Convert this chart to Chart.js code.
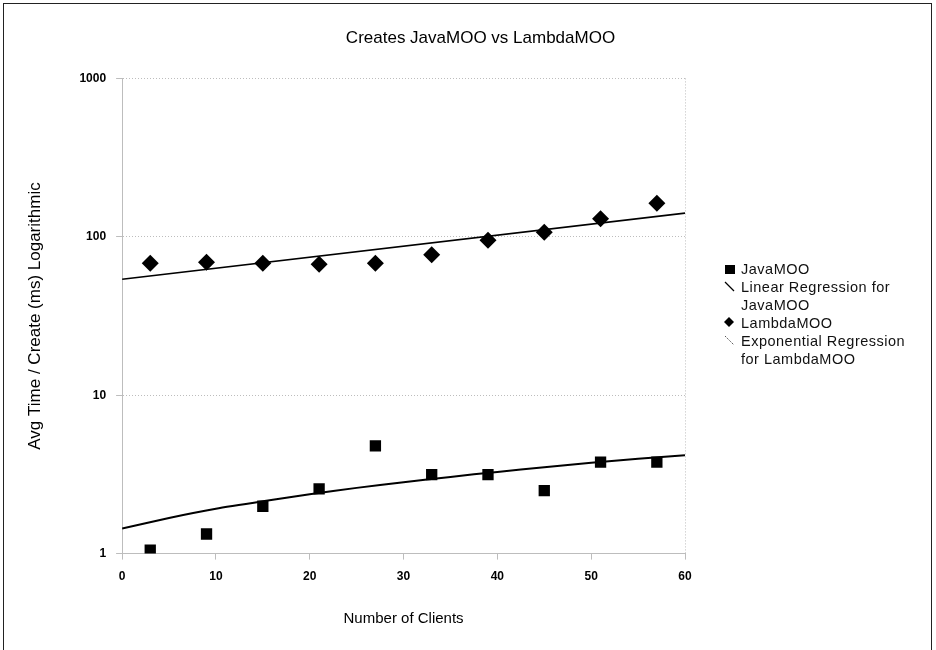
<!DOCTYPE html>
<html>
<head>
<meta charset="utf-8">
<script src="https://cdn.jsdelivr.net/npm/chart.js@4/dist/chart.umd.min.js"></script>
<style>
  html, body { margin: 0; padding: 0; background: #fff; }
  #wrap { position: relative; width: 936px; height: 650px; overflow: hidden; }
  #frame { position: absolute; left: 3px; top: 3px; width: 927px; height: 660px;
           border-top: 1.5px solid #222; border-left: 1.5px solid #222; border-right: 1.5px solid #222; pointer-events: none; }
  #legend { position: absolute; left: 724px; top: 260px; font-family: "Liberation Sans", Arial, sans-serif;
            font-size: 14.5px; letter-spacing: 0.5px; color: #111; line-height: 18px; }
  .item { position: relative; padding-left: 17px; margin-bottom: 0px; }
  .mk { position: absolute; left: 0; }
</style>
</head>
<body>
<div id="wrap">
  <canvas id="c" width="936" height="650"></canvas>
  <div id="frame"></div>
  <div id="legend">
    <div class="item"><svg class="mk" style="top:4px" width="12" height="12"><rect x="1" y="1" width="10" height="9" fill="#000"/></svg>JavaMOO</div>
    <div class="item"><svg class="mk" style="top:3px" width="12" height="12"><line x1="1" y1="1" x2="10" y2="10" stroke="#000" stroke-width="1.3"/></svg>Linear Regression for<br>JavaMOO</div>
    <div class="item"><svg class="mk" style="top:3px" width="12" height="12"><polygon points="5,0 10,5 5,10 0,5" fill="#000"/></svg>LambdaMOO</div>
    <div class="item"><svg class="mk" style="top:3px" width="12" height="12"><line x1="1" y1="1" x2="10" y2="10" stroke="#555" stroke-width="1" stroke-dasharray="1.5,1"/></svg>Exponential Regression<br>for LambdaMOO</div>
  </div>
</div>
<script>
// ---- data ----
const clients = [3, 9, 15, 21, 27, 33, 39, 45, 51, 57];
const javaMOO = [1.05, 1.33, 1.99, 2.56, 4.79, 3.15, 3.15, 2.5, 3.78, 3.78];
const lambdaMOO = [68, 69, 68, 67, 68, 77, 95, 107, 130, 163];
// trend lines
const javaTrendX = [0, 5, 10, 15, 20, 25, 30, 35, 40, 45, 50, 55, 60];
const javaTrendY = [1.44, 1.68, 1.92, 2.14, 2.37, 2.60, 2.82, 3.05, 3.28, 3.51, 3.74, 3.97, 4.18];
const lambdaTrendX = [0, 60];
const lambdaTrendY = [54, 141];
const yTicks = [1, 10, 100, 1000];
const xTicks = [0, 10, 20, 30, 40, 50, 60];

const pts = (xs, ys) => xs.map((x, i) => ({ x: x, y: ys[i] }));
const FONT = '"Liberation Sans", Arial, sans-serif';
const GRID = '#bdbdbd';

new Chart(document.getElementById('c'), {
  type: 'scatter',
  data: {
    datasets: [
      { label: 'JavaMOO', data: pts(clients, javaMOO), pointStyle: 'rect', pointRadius: 8,
        backgroundColor: '#000', borderColor: '#000', borderWidth: 0, showLine: false },
      { label: 'Linear Regression for JavaMOO', data: pts(javaTrendX, javaTrendY), showLine: true,
        pointRadius: 0, borderColor: '#000', borderWidth: 2, tension: 0.2 },
      { label: 'LambdaMOO', data: pts(clients, lambdaMOO), pointStyle: 'rectRot', pointRadius: 8.5,
        backgroundColor: '#000', borderColor: '#000', borderWidth: 0, showLine: false },
      { label: 'Exponential Regression for LambdaMOO', data: pts(lambdaTrendX, lambdaTrendY), showLine: true,
        pointRadius: 0, borderColor: '#000', borderWidth: 1.6 }
    ]
  },
  options: {
    responsive: false,
    animation: false,
    layout: { padding: { left: 25, right: 0, top: 28, bottom: 22 } },
    plugins: {
      legend: { display: false },
      tooltip: { enabled: false },
      title: { display: true, text: 'Creates JavaMOO vs LambdaMOO', color: '#000',
               font: { family: FONT, size: 17, weight: 'normal' }, padding: { top: 0, bottom: 30 } }
    },
    scales: {
      x: {
        type: 'linear', min: 0, max: 60,
        afterBuildTicks: (s) => { s.ticks = xTicks.map(v => ({ value: v })); },
        ticks: { color: '#000', font: { family: FONT, size: 12, weight: 'bold' }, padding: 10 },
        grid: { color: (c) => (c.tick && (c.tick.value === 0 || c.tick.value === 60)) ? GRID : 'rgba(0,0,0,0)',
                tickColor: GRID, tickLength: 6, lineWidth: 1 },
        border: { display: true, color: GRID, dash: [1, 2] },
        title: { display: true, text: 'Number of Clients', color: '#000',
                 font: { family: FONT, size: 15, weight: 'normal' }, padding: { top: 16, bottom: 0 } }
      },
      y: {
        type: 'logarithmic', min: 1, max: 1000,
        afterBuildTicks: (s) => { s.ticks = yTicks.map(v => ({ value: v })); },
        ticks: { color: '#000', font: { family: FONT, size: 12, weight: 'bold' }, padding: 10,
                 callback: (v) => String(v) },
        grid: { color: GRID, tickColor: GRID, tickLength: 6, lineWidth: 1 },
        border: { display: true, color: GRID, dash: [1, 2] },
        title: { display: true, text: 'Avg Time / Create (ms) Logarithmic', color: '#000',
                 font: { family: FONT, size: 17, weight: 'normal' }, padding: { top: 0, bottom: 24 } }
      },
      spacer: {
        type: 'linear', position: 'right', display: true,
        grid: { display: false, drawTicks: false }, border: { display: false },
        ticks: { display: false },
        afterFit: (s) => { s.width = 251; }
      }
    }
  }
});
</script>
</body>
</html>
